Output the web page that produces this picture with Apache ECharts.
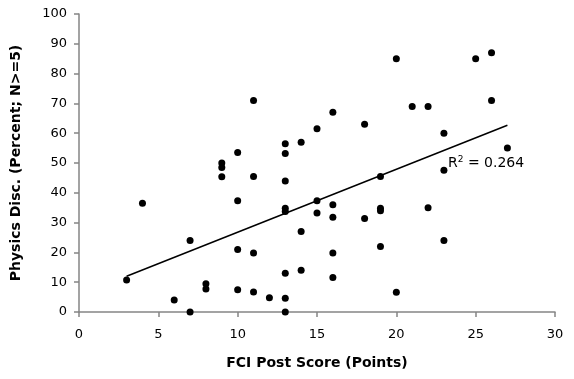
<!DOCTYPE html>
<html>
<head>
<meta charset="utf-8">
<script src="https://cdn.jsdelivr.net/npm/echarts@6/dist/echarts.min.js"></script>
<style>html,body{margin:0;padding:0;background:#fff}#c{width:574px;height:379px}</style>
</head>
<body>
<div id="c"></div>
<script>
const fciScores = [3,4,6,7,7,8,8,9,9,9,10,10,10,10,11,11,11,11,12,13,13,13,13,13,13,13,13,14,14,14,15,15,15,16,16,16,16,16,18,18,19,19,19,19,20,20,21,22,22,23,23,23,25,26,26,27];
const physicsDisc = [10.7,36.5,4,24,0,9.5,7.7,50,48.5,45.4,53.5,37.3,21,7.5,71,45.5,19.8,6.7,4.8,56.5,53.2,44,34.8,33.7,13,4.6,0,57,27,14,61.5,37.3,33.2,67,36,31.8,19.8,11.6,63,31.4,45.5,34.8,34,22,85,6.6,69,69,35,60,47.6,24,85,87,71,55];
const xTicks = [0,5,10,15,20,25,30];
const yTicks = [0,10,20,30,40,50,60,70,80,90,100];
const r2Text = '0.264';

const points = fciScores.map((x,i)=>[x, physicsDisc[i]]);
// least squares trend line over data range
const n = points.length;
let sx=0,sy=0,sxx=0,sxy=0;
points.forEach(p=>{sx+=p[0];sy+=p[1];sxx+=p[0]*p[0];sxy+=p[0]*p[1];});
const slope = (n*sxy-sx*sy)/(n*sxx-sx*sx);
const icpt = (sy-slope*sx)/n;
const xmin = Math.min(...fciScores), xmax = Math.max(...fciScores);
const trend = [[xmin, icpt+slope*xmin],[xmax, icpt+slope*xmax]];

const font = 'DejaVu Sans';
const chart = echarts.init(document.getElementById('c'));
chart.setOption({
  animation:false,
  backgroundColor:'#fff',
  grid:{left:79,right:19,top:14,bottom:67},
  xAxis:{type:'value',min:xTicks[0],max:xTicks[xTicks.length-1],interval:5,
    name:'FCI Post Score (Points)',nameLocation:'middle',nameGap:44,
    nameTextStyle:{fontFamily:font,fontWeight:'bold',fontSize:14,color:'#000'},
    axisLine:{lineStyle:{color:'#858585',width:1.5}},
    axisTick:{show:true,length:5,lineStyle:{color:'#858585',width:1.5}},
    axisLabel:{fontFamily:font,fontSize:13,color:'#000',margin:16},
    splitLine:{show:false}},
  yAxis:{type:'value',min:yTicks[0],max:yTicks[yTicks.length-1],interval:10,
    name:'Physics Disc. (Percent; N>=5)',nameLocation:'middle',nameGap:56,
    nameTextStyle:{fontFamily:font,fontWeight:'bold',fontSize:14,color:'#000'},
    axisLine:{show:true,lineStyle:{color:'#858585',width:1.5}},
    axisTick:{show:true,length:5,lineStyle:{color:'#858585',width:1.5}},
    axisLabel:{fontFamily:font,fontSize:13,color:'#000',margin:12},
    splitLine:{show:false}},
  series:[
    {type:'line',data:trend,symbol:'none',lineStyle:{color:'#000',width:1.5},z:2},
    {type:'scatter',data:points,symbol:'circle',symbolSize:7,itemStyle:{color:'#000',opacity:1},z:3}
  ],
  graphic:[{type:'text',left:448,top:155,style:{
    text:'{a|R}{s|2}{a| = '+r2Text+'}',
    rich:{a:{fontFamily:font,fontSize:14,fill:'#000',verticalAlign:'bottom'},
          s:{fontFamily:font,fontSize:9,fill:'#000',verticalAlign:'top',padding:[0,0,6,0]}}
  }}]
});
</script>
</body>
</html>
